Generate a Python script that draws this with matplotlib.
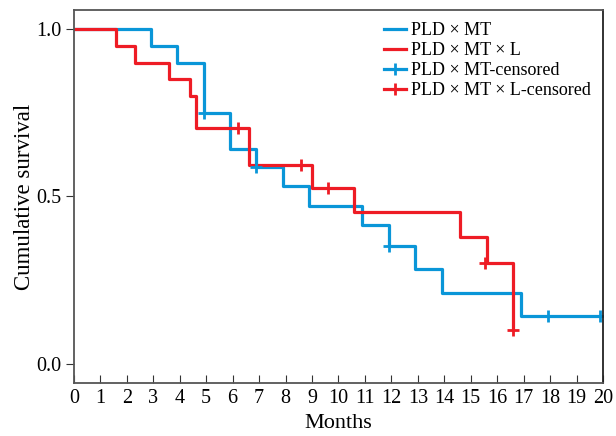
import matplotlib
matplotlib.use("Agg")
import matplotlib.pyplot as plt
from matplotlib.lines import Line2D

plt.rcParams['font.family'] = ['Liberation Serif', 'DejaVu Serif']

# dados
mt_t = [0, 2.9, 3.9, 4.9, 5.9, 6.9, 7.9, 8.9, 10.9, 11.9, 12.9, 13.9, 16.9, 19.9]
mt_s = [1.0, 0.95, 0.90, 0.75, 0.643, 0.587, 0.531, 0.472, 0.414, 0.353, 0.284, 0.213, 0.142, 0.142]
mt_cens_t = [4.9, 6.9, 11.9, 17.9, 19.9]
mt_cens_s = [0.75, 0.587, 0.353, 0.142, 0.142]

mtl_t = [0, 1.6, 2.3, 3.6, 4.4, 4.6, 6.6, 9.0, 10.6, 14.6, 15.6, 16.6]
mtl_s = [1.0, 0.95, 0.90, 0.85, 0.80, 0.704, 0.595, 0.526, 0.454, 0.378, 0.301, 0.10]
mtl_cens_t = [6.2, 8.6, 9.6, 15.55, 16.6]
mtl_cens_s = [0.704, 0.595, 0.526, 0.301, 0.10]

labels = ['PLD \u00d7 MT', 'PLD \u00d7 MT \u00d7 L',
          'PLD \u00d7 MT-censored', 'PLD \u00d7 MT \u00d7 L-censored']
xticks = list(range(0, 21))
yticks = [0.0, 0.5, 1.0]

blue = '#0a96d8'
red = '#ee1c25'

fig = plt.figure(figsize=(6.16, 4.36), dpi=100)
ax = fig.add_axes([0.120, 0.1216, 0.859, 0.8555])

ax.step(mt_t, mt_s, where='post', color=blue, lw=2.3)
ax.step(mtl_t, mtl_s, where='post', color=red, lw=2.3)
# marcas de censura em "+"
ax.plot(mt_cens_t, mt_cens_s, ls='none', marker='+', ms=9, mew=2, color=blue)
ax.plot(mtl_cens_t, mtl_cens_s, ls='none', marker='+', ms=9, mew=2, color=red)

ax.set_xlim(0, 20)
ax.set_ylim(-0.057, 1.057)
ax.set_xticks(xticks)
ax.set_yticks(yticks)
ax.set_yticklabels(['%.1f' % v for v in yticks])
ax.tick_params(axis='x', direction='in', length=6, labelsize=14.5, pad=4, color='#333333')
ax.tick_params(axis='y', direction='out', length=6, labelsize=14.5, pad=3, color='#333333')
for s in ax.spines.values():
    s.set_color('#555555')
    s.set_linewidth(1.3)
ax.spines['right'].set_color('#222222')

ax.set_xlabel('Months', fontsize=16, labelpad=5)
ax.set_ylabel('Cumulative survival', fontsize=16.5, labelpad=1)

handles = [Line2D([], [], color=blue, lw=2.3),
           Line2D([], [], color=red, lw=2.3),
           Line2D([], [], color=blue, lw=2.3, marker='+', ms=9, mew=2),
           Line2D([], [], color=red, lw=2.3, marker='+', ms=9, mew=2)]
ax.legend(handles, labels, loc='upper left', bbox_to_anchor=(0.586, 0.967),
          fontsize=13, frameon=False, borderaxespad=0, borderpad=0,
          handlelength=1.2, handletextpad=0.3, labelspacing=0.16)

fig.savefig('out.png', dpi=100)
